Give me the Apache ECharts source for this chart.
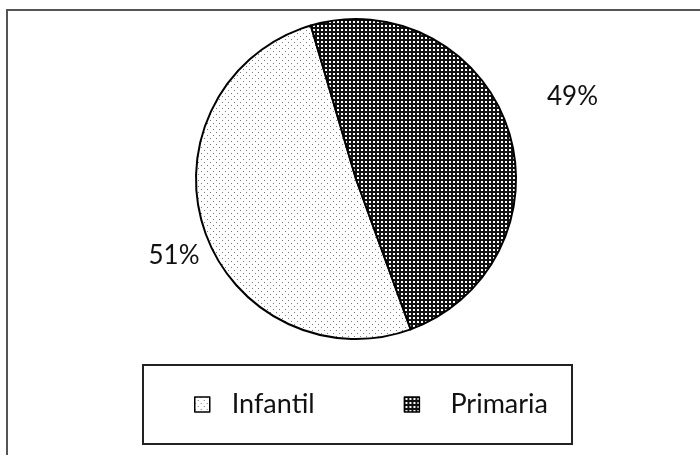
<!DOCTYPE html>
<html>
<head>
<meta charset="utf-8">
<script src="https://cdn.jsdelivr.net/npm/echarts@6/dist/echarts.min.js"></script>
<style>
    html, body { margin: 0; padding: 0; background: #fff; }
    #pie-box { width: 700px; height: 459px; }
</style>
</head>
<body>
<div id="pie-box"></div>
<script>
// 資料
var categories = ['Infantil', 'Primaria'];
var percentValues = [51, 49];

// 產生圖樣 (點狀 / 網格)
function makeDotPattern() {
    var c = document.createElement('canvas');
    c.width = 6; c.height = 6;
    var ctx = c.getContext('2d');
    ctx.fillStyle = '#ffffff';
    ctx.fillRect(0, 0, 6, 6);
    ctx.fillStyle = '#7a7a7a';
    ctx.fillRect(0, 0, 1, 1);
    ctx.fillRect(3, 3, 1, 1);
    return c;
}
function makeGridPattern() {
    var c = document.createElement('canvas');
    c.width = 4; c.height = 4;
    var ctx = c.getContext('2d');
    ctx.fillStyle = '#111111';
    ctx.fillRect(0, 0, 4, 4);
    ctx.fillStyle = '#ffffff';
    ctx.fillRect(1, 1, 2, 2);
    return c;
}

pieChart();

function pieChart() {
    var chartDom = document.getElementById('pie-box');
    var myChart = echarts.init(chartDom);
    var option;

    var patterns = [
        { image: makeDotPattern(), repeat: 'repeat' },
        { image: makeGridPattern(), repeat: 'repeat' }
    ];
    // 標籤線長度 (隱藏線，只用來放文字)
    var labelLens = [[10, 18], [40, 22]];
    // 標籤微調
    var labelShift = [[28, 24], [-26, -20]];
    // 圖例文字與色塊的距離
    var legendTextPad = [17, 26];

    var pieData = categories.map(function (name, i) {
        return {
            name: name,
            value: percentValues[i],
            itemStyle: { color: patterns[i] },
            labelLine: { length: labelLens[i][0], length2: labelLens[i][1] }
        };
    });

    option = {
        animation: false,
        backgroundColor: '#ffffff',
        graphic: [
            // 外框 (只有上邊和左邊)
            { type: 'line', shape: { x1: 6, y1: 10, x2: 700, y2: 10 }, style: { stroke: '#555', lineWidth: 2 } },
            { type: 'line', shape: { x1: 7, y1: 10, x2: 7, y2: 455 }, style: { stroke: '#555', lineWidth: 2 } }
        ],
        legend: {
            data: categories.map(function (name, i) {
                return { name: name, textStyle: { padding: [0, 0, 0, legendTextPad[i]] } };
            }),
            left: 143,
            top: 365,
            orient: 'horizontal',
            icon: 'rect',
            itemWidth: 15,
            itemHeight: 15,
            itemGap: 89,
            padding: [26, 24, 26, 51],
            borderColor: '#222',
            borderWidth: 2,
            itemStyle: { borderWidth: 1.5, borderColor: '#000' },
            textStyle: {
                color: '#111',
                fontSize: 27,
                fontFamily: 'Lato'
            }
        },
        series: [
            {
                type: 'pie',
                center: [356, 179],
                radius: 160,
                startAngle: 290,
                clockwise: true,
                data: pieData,
                itemStyle: {
                    borderColor: '#000',
                    borderWidth: 2
                },
                label: {
                    show: true,
                    position: 'outside',
                    formatter: '{c}%',
                    color: '#111',
                    fontSize: 26,
                    fontFamily: 'Lato'
                },
                labelLine: {
                    show: true,
                    lineStyle: { opacity: 0 }
                },
                labelLayout: function (params) {
                    var s = labelShift[params.dataIndex];
                    return { dx: s[0], dy: s[1] };
                },
                emphasis: { disabled: true }
            }
        ]
    };

    option && myChart.setOption(option);
}
</script>
</body>
</html>
